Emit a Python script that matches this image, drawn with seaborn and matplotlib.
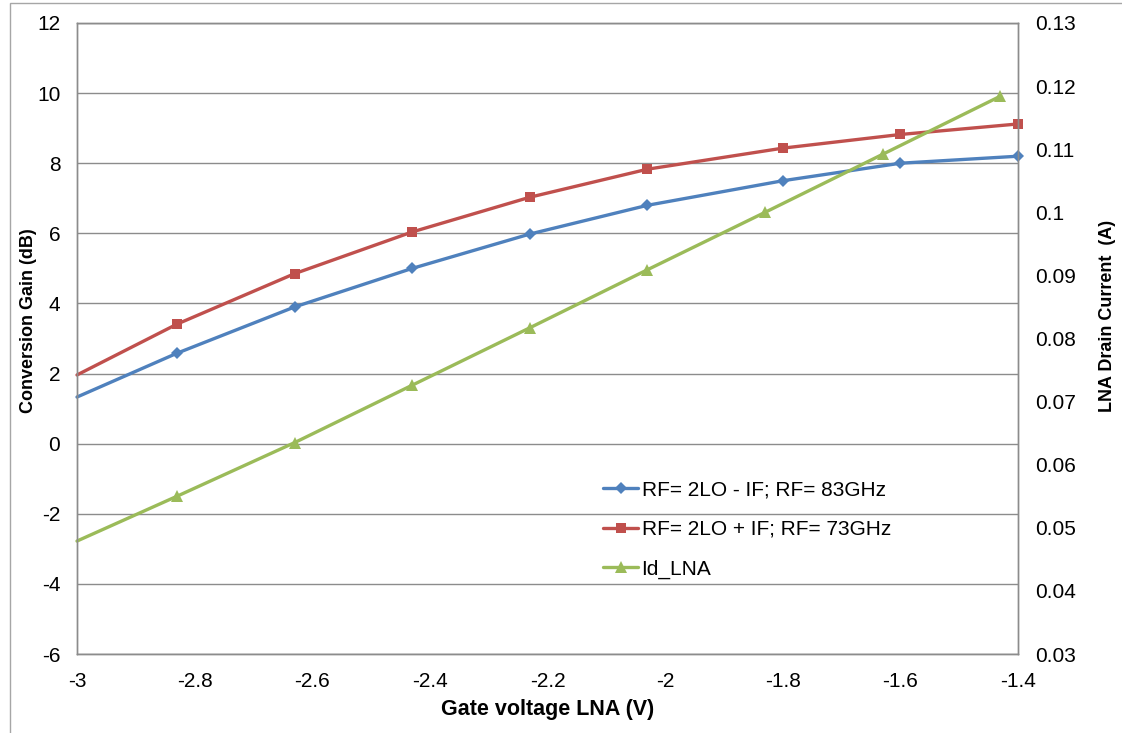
import numpy as np
import pandas as pd
import matplotlib
matplotlib.use("Agg")
import matplotlib.pyplot as plt
import seaborn as sns
from matplotlib.patches import Rectangle

# gate voltage (V) for the two gain curves
vg_gain = [-3.0, -2.83, -2.63, -2.43, -2.23, -2.03, -1.8, -1.6, -1.4]
gain_minus = [1.33, 2.58, 3.9, 5.0, 5.98, 6.8, 7.5, 8.0, 8.2]     # RF=2LO-IF, 83GHz
gain_plus = [1.96, 3.41, 4.85, 6.04, 7.03, 7.83, 8.43, 8.82, 9.12]  # RF=2LO+IF, 73GHz

# gate voltage (V) for the drain current
vg_id = [-3.0, -2.83, -2.63, -2.43, -2.23, -2.03, -1.83, -1.63, -1.43]
id_lna = [0.0479, 0.0550, 0.0635, 0.0726, 0.0817, 0.0909, 0.1000, 0.1092, 0.1184]

labels = ["RF= 2LO - IF; RF= 83GHz", "RF= 2LO + IF; RF= 73GHz", "Id_LNA"]
colors = ["#4F81BD", "#C0504D", "#9BBB59"]

x_ticks = [-3, -2.8, -2.6, -2.4, -2.2, -2, -1.8, -1.6, -1.4]
x_ticklabels = ["-3", "-2.8", "-2.6", "-2.4", "-2.2", "-2", "-1.8", "-1.6", "-1.4"]
y_ticks = [-6, -4, -2, 0, 2, 4, 6, 8, 10, 12]
y_ticklabels = ["-6", "-4", "-2", "0", "2", "4", "6", "8", "10", "12"]
y2_ticks = [0.03, 0.04, 0.05, 0.06, 0.07, 0.08, 0.09, 0.1, 0.11, 0.12, 0.13]
y2_ticklabels = ["0.03", "0.04", "0.05", "0.06", "0.07", "0.08", "0.09", "0.1",
                 "0.11", "0.12", "0.13"]

sns.set_style("white")
plt.rcParams["font.family"] = ["Liberation Sans", "DejaVu Sans"]
plt.rcParams["text.color"] = "black"
plt.rcParams["xtick.color"] = "black"
plt.rcParams["ytick.color"] = "black"
plt.rcParams["axes.labelcolor"] = "black"

fig = plt.figure(figsize=(11.22, 7.33), dpi=100)
ax = fig.add_axes([77 / 1122, 79 / 733, 941 / 1122, 631 / 733])
ax2 = ax.twinx()

df_gain = pd.DataFrame({"vg": vg_gain, "minus": gain_minus, "plus": gain_plus})
df_id = pd.DataFrame({"vg": vg_id, "id": id_lna})

sns.lineplot(data=df_gain, x="vg", y="minus", ax=ax, color=colors[0], lw=2.4,
             marker="D", markersize=6.5, markeredgewidth=0, markevery=list(range(1, 9)),
             sort=False, estimator=None, label=labels[0], legend=False, clip_on=False)
sns.lineplot(data=df_gain, x="vg", y="plus", ax=ax, color=colors[1], lw=2.4,
             marker="s", markersize=7.5, markeredgewidth=0, markevery=list(range(1, 9)),
             sort=False, estimator=None, label=labels[1], legend=False, clip_on=False)
sns.lineplot(data=df_id, x="vg", y="id", ax=ax2, color=colors[2], lw=2.4,
             marker="^", markersize=8.5, markeredgewidth=0, markevery=list(range(1, 9)),
             sort=False, estimator=None, label=labels[2], legend=False, clip_on=False)

ax.set_xlim(-3, -1.4)
ax.set_ylim(-6, 12)
ax2.set_ylim(0.03, 0.13)
ax.set_xticks(x_ticks)
ax.set_xticklabels(x_ticklabels)
ax.set_yticks(y_ticks)
ax.set_yticklabels(y_ticklabels)
ax2.set_yticks(y2_ticks)
ax2.set_yticklabels(y2_ticklabels)

ax.grid(axis="y", color="#8C8C8C", lw=1)
ax.set_axisbelow(True)
for a in (ax, ax2):
    for s in a.spines.values():
        s.set_color("#8C8C8C")
        s.set_linewidth(1)
ax.tick_params(axis="x", direction="in", length=5, color="#8C8C8C", pad=13, labelsize=15)
ax.tick_params(axis="y", length=0, pad=12, labelsize=15)
ax2.tick_params(axis="y", length=0, pad=12, labelsize=15)

ax.set_xlabel("Gate voltage LNA (V)", fontsize=15.5, fontweight="bold")
ax.set_ylabel("Conversion Gain (dB)", fontsize=13, fontweight="bold")
ax2.set_ylabel("LNA Drain Current  (A)", fontsize=13, fontweight="bold")
ax.xaxis.set_label_coords(0.5, -0.0713)
ax.yaxis.set_label_coords(-0.0425, 0.529)
ax2.yaxis.set_label_coords(1.086, 0.536)

h1, l1 = ax.get_legend_handles_labels()
h2, l2 = ax2.get_legend_handles_labels()
fig.legend(h1 + h2, l1 + l2, loc="upper left", bbox_to_anchor=(603 / 1122, 1 - 480 / 733),
           frameon=False, fontsize=15, handlelength=1.7, handletextpad=0.15,
           labelspacing=1.0, borderpad=0, borderaxespad=0)

fig.patches.append(Rectangle((10 / 1122, -0.01), 1.0, (733 - 3) / 733 + 0.01,
                             transform=fig.transFigure, fill=False,
                             edgecolor="#A6A6A6", lw=1))

fig.savefig("out.png", dpi=100)
